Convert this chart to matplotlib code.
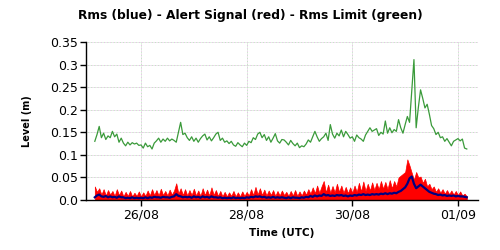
import numpy as np
import pandas as pd
import matplotlib
matplotlib.use("Agg")
import matplotlib.pyplot as plt
import matplotlib.dates as mdates
from matplotlib.ticker import FuncFormatter

# hourly samples starting 25/08 03:00 UTC
start = "2023-08-25 03:00"

rms_limit = [
    0.130, 0.145, 0.163, 0.138, 0.148, 0.134, 0.142, 0.138, 0.152, 0.140,
    0.146, 0.128, 0.137, 0.126, 0.120, 0.128, 0.122, 0.127, 0.124, 0.126,
    0.121, 0.122, 0.115, 0.126, 0.118, 0.121, 0.113, 0.126, 0.131, 0.137,
    0.128, 0.135, 0.130, 0.137, 0.131, 0.135, 0.132, 0.128, 0.150, 0.172,
    0.145, 0.148,
    0.138, 0.132, 0.140, 0.130, 0.137, 0.128, 0.136, 0.142, 0.146, 0.133,
    0.140, 0.131, 0.138, 0.146, 0.150, 0.132, 0.137, 0.128, 0.131, 0.125,
    0.130, 0.122, 0.119, 0.127, 0.122, 0.118, 0.126, 0.121, 0.130, 0.127,
    0.138, 0.134, 0.146, 0.150, 0.138, 0.145, 0.132, 0.140, 0.128, 0.137,
    0.147, 0.131, 0.126, 0.134,
    0.133, 0.128, 0.122, 0.132, 0.125, 0.120, 0.126, 0.116, 0.120, 0.118,
    0.124, 0.133, 0.128, 0.140, 0.152, 0.140, 0.130, 0.136, 0.140, 0.148,
    0.132, 0.167, 0.146, 0.137, 0.148, 0.142, 0.155, 0.140, 0.152, 0.145,
    0.137, 0.140, 0.130, 0.144, 0.138, 0.135, 0.130, 0.144, 0.152, 0.160,
    0.152, 0.155,
    0.158, 0.143, 0.150, 0.146, 0.175, 0.148, 0.160, 0.149, 0.156, 0.152,
    0.178, 0.160, 0.148, 0.167, 0.185, 0.172, 0.240, 0.311, 0.160, 0.205,
    0.244, 0.225, 0.204, 0.212, 0.190, 0.165, 0.158, 0.145, 0.150, 0.138,
    0.140, 0.130, 0.136, 0.128, 0.120, 0.130, 0.133, 0.136, 0.131, 0.135,
    0.115, 0.113,
]

alert_signal = [
    0.030, 0.018, 0.026, 0.012, 0.024, 0.010, 0.022, 0.012, 0.020, 0.009,
    0.024, 0.011, 0.021, 0.008, 0.018, 0.009, 0.020, 0.008, 0.016, 0.009,
    0.019, 0.008, 0.017, 0.009, 0.021, 0.010, 0.024, 0.011, 0.022, 0.010,
    0.025, 0.011, 0.020, 0.010, 0.023, 0.012, 0.021, 0.037, 0.014, 0.026,
    0.011, 0.024,
    0.010, 0.022, 0.011, 0.025, 0.010, 0.021, 0.009, 0.026, 0.011, 0.023,
    0.010, 0.028, 0.011, 0.022, 0.009, 0.020, 0.008, 0.018, 0.008, 0.017,
    0.009, 0.020, 0.008, 0.017, 0.008, 0.019, 0.009, 0.018, 0.010, 0.024,
    0.011, 0.029, 0.012, 0.026, 0.011, 0.023, 0.010, 0.021, 0.011, 0.022,
    0.009, 0.020, 0.010, 0.021,
    0.011, 0.018, 0.009, 0.020, 0.010, 0.022, 0.009, 0.019, 0.010, 0.021,
    0.012, 0.024, 0.014, 0.028, 0.015, 0.032, 0.016, 0.030, 0.042, 0.017,
    0.034, 0.016, 0.031, 0.017, 0.036, 0.018, 0.032, 0.016, 0.029, 0.015,
    0.028, 0.016, 0.032, 0.018, 0.038, 0.019, 0.041, 0.020, 0.036, 0.021,
    0.039, 0.022,
    0.038, 0.024, 0.042, 0.025, 0.040, 0.024, 0.044, 0.026, 0.042, 0.030,
    0.050, 0.054, 0.058, 0.062, 0.090, 0.076, 0.060, 0.045, 0.062, 0.050,
    0.052, 0.038, 0.047, 0.030, 0.036, 0.024, 0.030, 0.018, 0.026, 0.016,
    0.024, 0.014, 0.022, 0.013, 0.021, 0.012, 0.020, 0.011, 0.019, 0.010,
    0.014, 0.008,
]

rms = [
    0.006, 0.010, 0.012, 0.008, 0.007, 0.009, 0.006, 0.008, 0.006, 0.007,
    0.005, 0.008, 0.006, 0.006, 0.004, 0.005, 0.004, 0.006, 0.004, 0.005,
    0.004, 0.005, 0.004, 0.006, 0.004, 0.006, 0.005, 0.007, 0.006, 0.006,
    0.005, 0.007, 0.006, 0.006, 0.005, 0.007, 0.008, 0.013, 0.009, 0.008,
    0.006, 0.007,
    0.006, 0.007, 0.005, 0.008, 0.006, 0.007, 0.005, 0.008, 0.006, 0.007,
    0.005, 0.008, 0.006, 0.006, 0.005, 0.006, 0.004, 0.005, 0.004, 0.005,
    0.004, 0.006, 0.004, 0.005, 0.004, 0.005, 0.004, 0.006, 0.005, 0.007,
    0.006, 0.008, 0.007, 0.008, 0.006, 0.007, 0.005, 0.006, 0.005, 0.007,
    0.005, 0.006, 0.005, 0.006,
    0.005, 0.004, 0.006, 0.004, 0.006, 0.005, 0.005, 0.004, 0.006, 0.005,
    0.007, 0.006, 0.009, 0.007, 0.010, 0.008, 0.010, 0.009, 0.013, 0.010,
    0.011, 0.009, 0.010, 0.009, 0.011, 0.010, 0.011, 0.009, 0.010, 0.008,
    0.010, 0.009, 0.011, 0.010, 0.012, 0.011, 0.013, 0.011, 0.012, 0.011,
    0.013, 0.012,
    0.013, 0.012, 0.014, 0.013, 0.015, 0.013, 0.015, 0.014, 0.016, 0.015,
    0.018, 0.020, 0.024, 0.028, 0.036, 0.048, 0.052, 0.036, 0.026, 0.030,
    0.034, 0.030, 0.026, 0.022, 0.018, 0.016, 0.014, 0.013, 0.011, 0.012,
    0.010, 0.011, 0.009, 0.010, 0.009, 0.010, 0.008, 0.009, 0.008, 0.008,
    0.007, 0.006,
]

tick_dates = ["2023-08-26", "2023-08-28", "2023-08-30", "2023-09-01"]
x_range = ["2023-08-24 23:00", "2023-09-01 09:06"]

times = pd.date_range(start, periods=len(rms), freq="h")

fig = plt.figure(figsize=(5, 2.5), dpi=100)
ax = fig.add_axes([0.172, 0.2, 0.784, 0.632])

# grid: dotted, alternating pink / green dots
for y in [0.05, 0.1, 0.15, 0.2, 0.25, 0.3, 0.35]:
    ax.axhline(y, color="#e6bfe6", lw=0.7, ls=(0, (1, 2)), zorder=0)
    ax.axhline(y, color="#bfe6bf", lw=0.7, ls=(1.5, (1, 2)), zorder=0)
for d in pd.to_datetime(tick_dates):
    ax.axvline(d, color="#e6bfe6", lw=0.7, ls=(0, (1, 2)), zorder=0)
    ax.axvline(d, color="#bfe6bf", lw=0.7, ls=(1.5, (1, 2)), zorder=0)

ax.fill_between(times, alert_signal, 0, color="#ff0000", lw=0.5, zorder=2)
ax.plot(times, rms, color="#000080", lw=1.6, zorder=3)
ax.plot(times, rms_limit, color="#3a9a3a", lw=0.9, zorder=3)

ax.set_ylim(0, 0.35)
ax.set_xlim(pd.to_datetime(x_range[0]), pd.to_datetime(x_range[1]))
ax.set_yticks([0, 0.05, 0.1, 0.15, 0.2, 0.25, 0.3, 0.35])
ax.yaxis.set_major_formatter(FuncFormatter(lambda v, p: "0.0" if v == 0 else f"{v:g}"))
ax.set_xticks(pd.to_datetime(tick_dates))
ax.xaxis.set_major_formatter(mdates.DateFormatter("%d/%m"))

for s in ["top", "right"]:
    ax.spines[s].set_visible(False)
ax.spines["left"].set_linewidth(1)
ax.spines["bottom"].set_linewidth(1)
ax.tick_params(axis="both", labelsize=9, length=4, width=1, pad=2)

fig.text(0.5, 0.94, "Rms (blue) - Alert Signal (red) - Rms Limit (green)",
         ha="center", va="center", fontsize=8.8, fontweight="bold")
ax.set_ylabel("Level (m)", fontsize=7, fontweight="bold", labelpad=13)
ax.set_xlabel("Time (UTC)", fontsize=7.5, fontweight="bold", labelpad=5)

fig.savefig("out.png", dpi=100)
